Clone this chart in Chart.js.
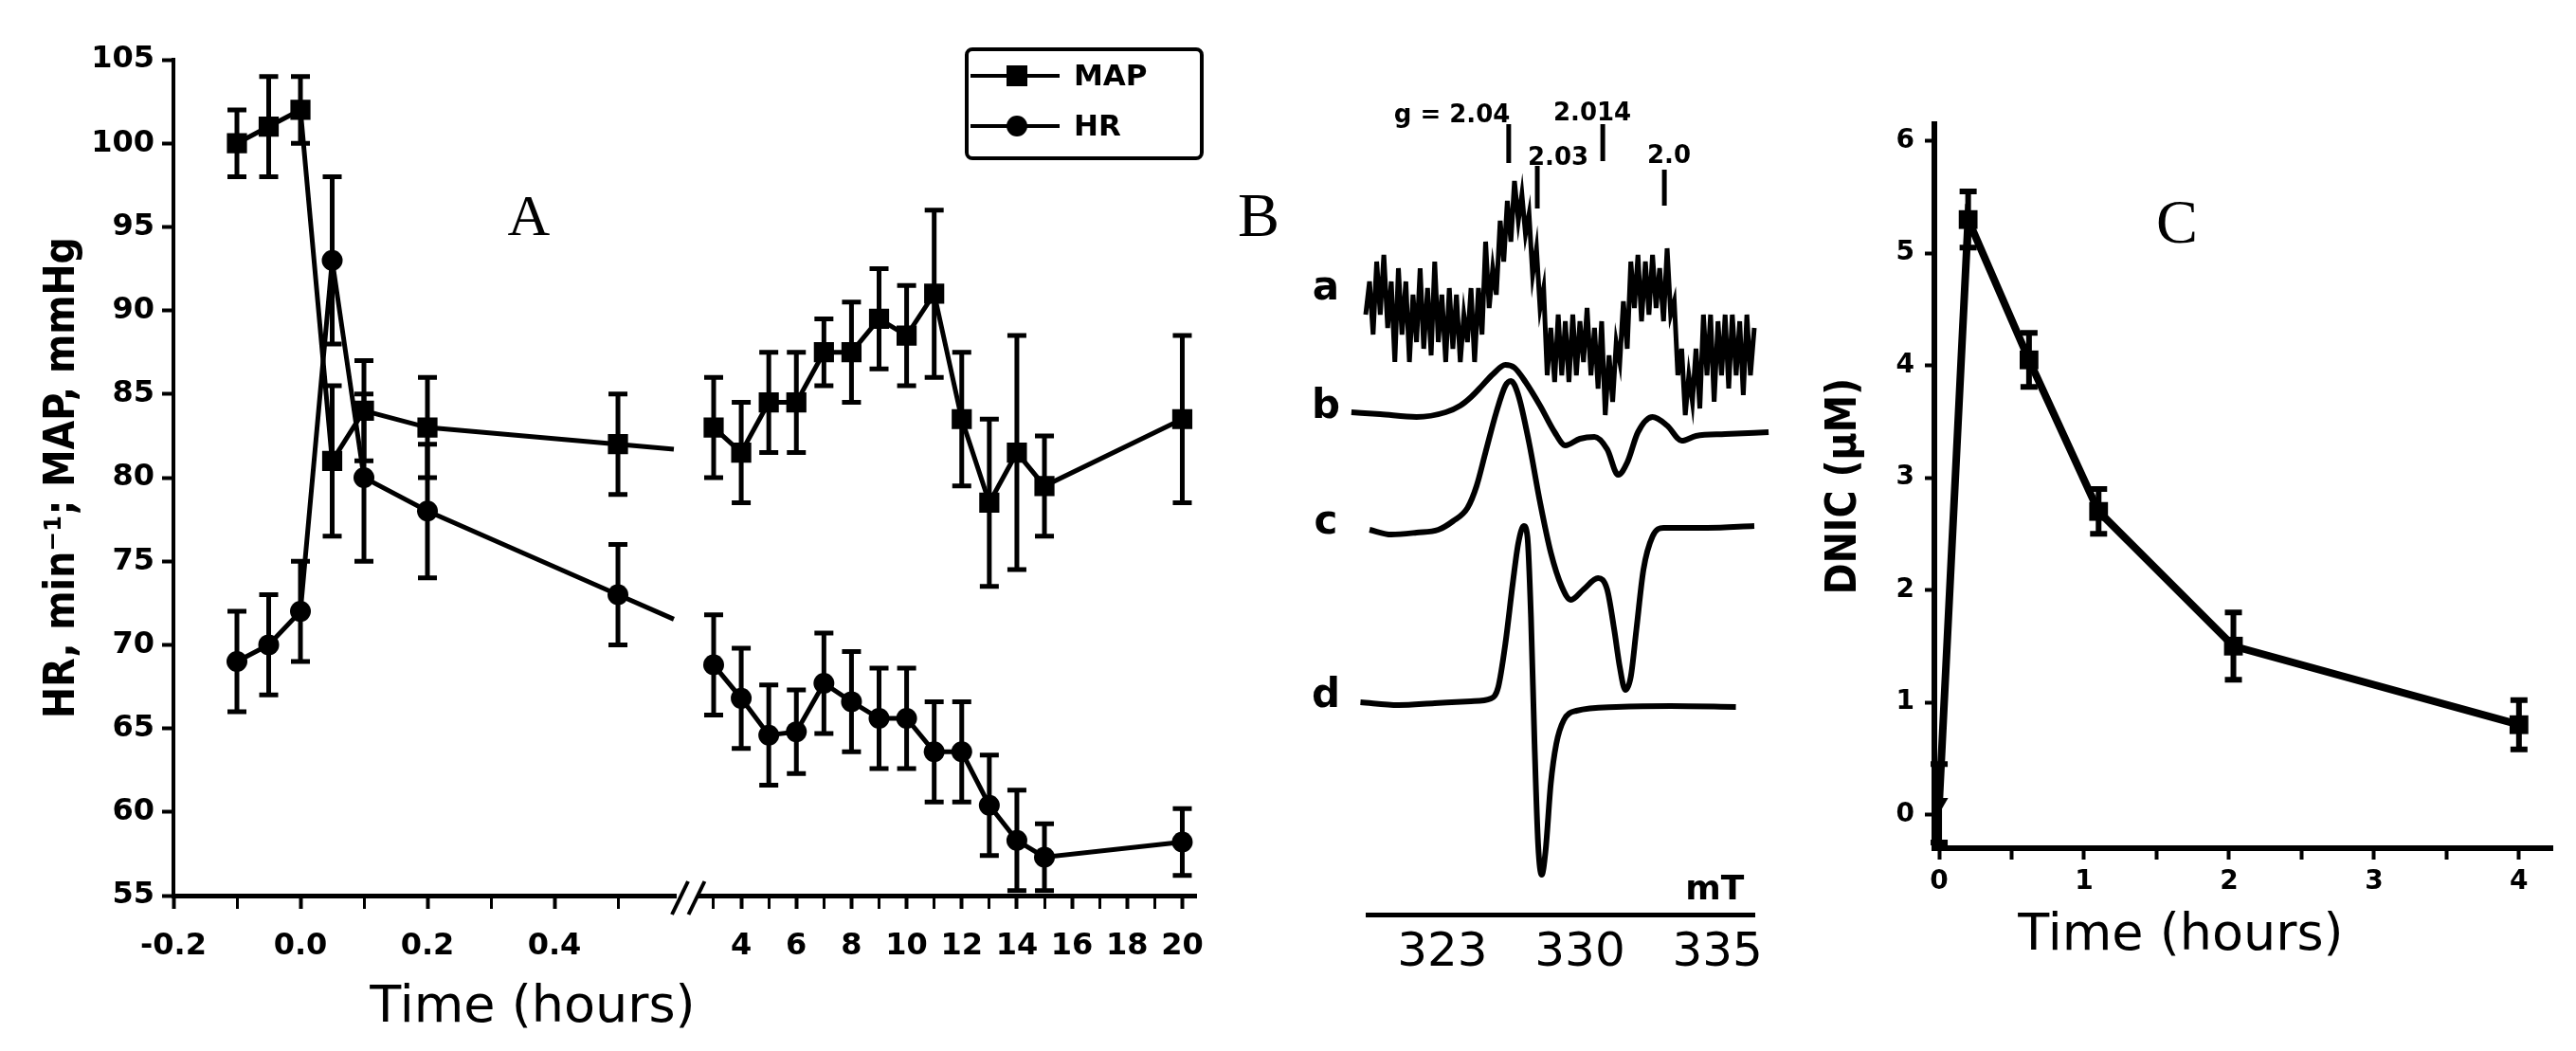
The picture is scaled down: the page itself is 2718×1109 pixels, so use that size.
<!DOCTYPE html>
<html>
<head>
<meta charset="utf-8">
<script src="https://cdn.jsdelivr.net/npm/chart.js@4.4.1/dist/chart.umd.min.js"></script>
<style>
  html, body { margin: 0; padding: 0; background: #fff; }
  #wrap { position: relative; width: 2718px; height: 1109px; background: #fff; overflow: hidden; }
  canvas { position: absolute; top: 0; }
</style>
</head>
<body>
<div id="wrap">
  <canvas id="chartA" width="1290" height="1109" style="left:0px"></canvas>
  <canvas id="chartB" width="590" height="1109" style="left:1290px"></canvas>
  <canvas id="chartC" width="838" height="1109" style="left:1880px"></canvas>
</div>
<script>
// ---- Panel A: MAP and HR over time (broken time axis) ----
const timeA = [-0.1, -0.05, 0, 0.05, 0.1, 0.2, 0.5, 3, 4, 5, 6, 7, 8, 9, 10, 11, 12, 13, 14, 15, 20];
const mapVals = [100, 101, 102, 81, 84, 83, 82, 83, 81.5, 84.5, 84.5, 87.5, 87.5, 89.5, 88.5, 91, 83.5, 78.5, 81.5, 79.5, 83.5];
const mapErr = [2, 3, 2, 4.5, 3, 3, 3, 3, 3, 3, 3, 2, 3, 3, 3, 5, 4, 5, 7, 3, 5];
const hrVals = [69, 70, 72, 93, 80, 78, 73, 68.8, 66.8, 64.6, 64.8, 67.7, 66.6, 65.6, 65.6, 63.6, 63.6, 60.4, 58.3, 57.3, 58.2];
const hrErr = [3, 3, 3, 5, 5, 4, 3, 3, 3, 3, 2.5, 3, 3, 3, 3, 3, 3, 3, 3, 2, 2];
const tickHoursA = [-0.2, -0.1, 0, 0.1, 0.2, 0.3, 0.4, 0.5, 3, 4, 5, 6, 7, 8, 9, 10, 11, 12, 13, 14, 15, 16, 17, 18, 19, 20];
const tickLabelsA = ['-0.2', '', '0.0', '', '0.2', '', '0.4', '', '', '4', '', '6', '', '8', '', '10', '', '12', '', '14', '', '16', '', '18', '', '20'];

// ---- Panel B: EPR spectra a-d ----
const fieldTickPos = [0, 50, 100];
const fieldTickLabels = ['323', '330', '335'];
const scanA = [-27.9, -26.5, -25.2, -23.9, -22.6, -21.3, -19.9, -18.6, -17.3, -16.0, -14.7, -13.3, -12.0, -10.7, -9.4, -8.1, -6.8, -5.4, -4.1, -2.8, -1.5, -0.2, 1.2, 2.5, 3.8, 5.1, 6.5, 7.8, 9.1, 10.4, 11.7, 13.1, 14.4, 15.7, 17.0, 18.3, 19.6, 21.0, 22.3, 23.6, 24.9, 26.2, 27.6, 28.9, 30.2, 31.5, 32.8, 34.2, 35.5, 36.8, 38.1, 39.4, 40.8, 42.1, 43.4, 44.7, 46.0, 47.4, 48.7, 50.0, 51.3, 52.6, 54.0, 55.3, 56.6, 57.9, 59.2, 60.6, 61.9, 63.2, 64.5, 65.8, 67.2, 68.5, 69.8, 71.1, 72.4, 73.8, 75.1, 76.4, 77.7, 79.0, 80.4, 81.7, 83.0, 84.3, 85.6, 87.0, 88.3, 89.6, 90.9, 92.2, 93.6, 94.9, 96.2, 97.5, 98.8, 100.2, 101.5, 102.8, 104.1, 105.4, 106.8, 108.1, 109.4, 110.7, 112.0, 113.4, 114.7, 116.0, 117.3];
const sigA = [63.3, 66.8, 61.2, 68.9, 63.3, 69.6, 61.9, 66.8, 58.3, 68.2, 61.2, 66.8, 58.3, 65.4, 60.4, 68.2, 59.7, 66.1, 59.0, 68.9, 60.4, 65.4, 58.3, 66.1, 59.7, 65.4, 58.3, 63.3, 60.4, 66.1, 58.3, 66.1, 61.2, 71.0, 64.0, 68.2, 65.4, 73.2, 68.9, 75.3, 71.0, 77.4, 73.2, 76.0, 71.8, 73.9, 67.5, 70.3, 64.0, 66.1, 56.9, 61.9, 56.2, 63.3, 56.9, 62.6, 56.2, 63.3, 56.9, 62.6, 58.3, 64.0, 56.9, 61.9, 55.5, 62.6, 52.7, 59.0, 54.1, 60.4, 58.3, 64.7, 59.7, 68.9, 64.0, 69.6, 62.6, 68.9, 63.3, 69.6, 64.0, 68.2, 62.6, 70.3, 63.3, 64.7, 56.9, 59.7, 52.7, 56.9, 54.1, 59.7, 53.4, 63.3, 56.9, 63.3, 54.1, 62.6, 56.9, 63.3, 55.5, 63.3, 56.9, 62.6, 54.8, 63.3, 56.9, 61.9, 58.3, 62.6, 61.2];
const scanB = [-33.1, -22.6, -9.4, 1.2, 6.5, 10.4, 14.4, 18.3, 22.9, 26.2, 30.2, 35.5, 40.8, 44.7, 50.0, 55.3, 59.9, 63.9, 67.2, 71.1, 76.4, 81.7, 87.0, 92.2, 102.8, 118.6];
const sigB = [53.0, 52.8, 52.5, 53.0, 53.7, 54.6, 55.8, 57.0, 58.0, 57.7, 56.2, 53.7, 50.9, 49.5, 50.2, 50.4, 49.1, 46.4, 47.7, 50.9, 52.5, 51.6, 50.0, 50.5, 50.7, 50.9];
const scanC = [-26.5, -18.6, -9.4, -1.5, 3.8, 9.1, 12.4, 15.7, 19.6, 22.9, 24.9, 27.6, 31.5, 35.5, 39.4, 43.4, 46.7, 51.3, 56.6, 59.9, 62.5, 64.5, 66.5, 68.5, 70.5, 73.1, 76.4, 80.4, 96.2, 113.4];
const sigC = [40.6, 40.1, 40.3, 40.6, 41.5, 42.9, 45.2, 48.8, 53.0, 55.8, 56.3, 54.8, 49.8, 43.5, 38.2, 34.6, 33.2, 34.3, 35.5, 34.3, 30.0, 26.1, 23.7, 25.1, 30.0, 36.4, 39.9, 40.8, 40.8, 41.0];
const scanD = [-29.8, -16.0, -2.8, 10.4, 17.7, 20.3, 22.9, 25.6, 27.6, 29.6, 30.9, 32.2, 33.5, 34.8, 36.1, 37.5, 39.4, 41.4, 44.1, 48.7, 63.2, 83.0, 106.7];
const sigD = [22.4, 22.1, 22.3, 22.5, 22.8, 24.0, 28.6, 35.0, 39.2, 41.0, 39.9, 31.4, 18.0, 7.4, 4.2, 6.7, 13.8, 18.0, 20.5, 21.5, 21.9, 22.0, 21.9];
const traceNames = ['a', 'b', 'c', 'd'];
const traceLabelLevels = [66, 53.5, 41.3, 23];
const gMarks = [
  { text: 'g = 2.04', textX: 3.5, textY: 84.3, x: 24.1, top: 83.4, bottom: 79.3 },
  { text: '2.014', textX: 54.5, textY: 84.5, x: 58.3, top: 83.4, bottom: 79.5 },
  { text: '2.03', textX: 42.1, textY: 79.8, x: 34.5, top: 79.0, bottom: 74.5 },
  { text: '2.0', textX: 82.4, textY: 80.0, x: 80.7, top: 78.6, bottom: 74.8 }
];

// ---- Panel C: DNIC over time ----
const dnicTime = [0, 0.2, 0.62, 1.1, 2.03, 4];
const dnicVals = [0.1, 5.3, 4.05, 2.7, 1.5, 0.8];
const dnicErr = [0.35, 0.25, 0.24, 0.2, 0.3, 0.22];
const tickHoursC = [0, 0.5, 1, 1.5, 2, 2.5, 3, 3.5, 4];
const tickLabelsC = ['0', '', '1', '', '2', '', '3', '', '4'];
const dnicTicks = [0, 1, 2, 3, 4, 5, 6];

// broken axis: left part in hours as is, right part compressed
const RIGHT_ORIGIN = 0.6941, RIGHT_SCALE = 0.04341;
const BREAK_LEFT = 0.588, BREAK_RIGHT = 2.5;
const LAST_LEFT = timeA.filter(h => h < 1).length - 1;
function toAxis(h) {
  return h < 1 ? h : RIGHT_ORIGIN + (h - 4) * RIGHT_SCALE;
}

const BLACK = '#000';
const tickFont = { family: 'DejaVu Sans', size: 32, weight: 'bold' };

const errorBars = {
  id: 'errorBars',
  beforeDatasetsDraw(chart) {
    const ctx = chart.ctx;
    chart.data.datasets.forEach((ds, i) => {
      if (!ds.errorBars) return;
      const meta = chart.getDatasetMeta(i);
      const ys = chart.scales[meta.yAxisID];
      ctx.save();
      ctx.strokeStyle = BLACK;
      ctx.lineWidth = ds.errorWidth;
      meta.data.forEach((pt, j) => {
        const v = ds.data[j].y, e = ds.errorBars[j];
        const y1 = ys.getPixelForValue(v + e), y2 = ys.getPixelForValue(v - e);
        const h = ds.capHalf;
        ctx.beginPath();
        ctx.moveTo(pt.x, y1); ctx.lineTo(pt.x, y2);
        ctx.moveTo(pt.x - h, y1); ctx.lineTo(pt.x + h, y1);
        ctx.moveTo(pt.x - h, y2); ctx.lineTo(pt.x + h, y2);
        ctx.stroke();
      });
      ctx.restore();
    });
  }
};

function text(ctx, str, x, y, font, align) {
  ctx.font = font;
  ctx.textAlign = align || 'center';
  ctx.textBaseline = 'middle';
  ctx.fillStyle = BLACK;
  ctx.fillText(str, x, y);
}

const decorA = {
  id: 'decorA',
  afterDraw(chart) {
    const ctx = chart.ctx, xs = chart.scales.x;
    const xb0 = xs.getPixelForValue(toAxis(BREAK_LEFT));
    const xb1 = xs.getPixelForValue(toAxis(BREAK_RIGHT));
    const yAx = xs.top;
    ctx.save();
    // lines run on to the break along their last slope
    chart.data.datasets.forEach((ds, i) => {
      const pts = chart.getDatasetMeta(i).data;
      const p0 = pts[LAST_LEFT - 1], p1 = pts[LAST_LEFT];
      const slope = (p1.y - p0.y) / (p1.x - p0.x);
      ctx.strokeStyle = BLACK;
      ctx.lineWidth = ds.borderWidth;
      ctx.beginPath();
      ctx.moveTo(p1.x, p1.y);
      ctx.lineTo(xb0, p1.y + slope * (xb0 - p1.x));
      ctx.stroke();
    });
    // axis break
    ctx.fillStyle = '#fff';
    ctx.fillRect(xb0 + 3, yAx - 8, xb1 - xb0 - 6, 16);
    ctx.strokeStyle = BLACK;
    ctx.lineWidth = 4;
    [xb0 - 2, xb1 - 12].forEach(x0 => {
      ctx.beginPath();
      ctx.moveTo(x0, yAx + 20);
      ctx.lineTo(x0 + 17, yAx - 15);
      ctx.stroke();
    });
    // legend box
    ctx.lineWidth = 4;
    ctx.beginPath();
    ctx.roundRect(1020, 52, 248, 115, 6);
    ctx.stroke();
    chart.data.datasets.forEach((ds, i) => {
      const y = 80 + i * 53;
      ctx.lineWidth = 4;
      ctx.beginPath(); ctx.moveTo(1024, y); ctx.lineTo(1118, y); ctx.stroke();
      ctx.fillStyle = BLACK;
      if (ds.pointStyle === 'rect') {
        ctx.fillRect(1062, y - 11, 22, 22);
      } else {
        ctx.beginPath(); ctx.arc(1073, y, 11, 0, Math.PI * 2); ctx.fill();
      }
      text(ctx, ds.label, 1133, y + 2, 'bold 31px "DejaVu Sans"', 'left');
    });
    text(ctx, 'A', 558, 232, '62px "Liberation Serif"');
    text(ctx, 'Time (hours)', 562, 1064, '54px "DejaVu Sans"');
    ctx.restore();
  }
};

new Chart(document.getElementById('chartA'), {
  type: 'line',
  data: {
    datasets: [
      {
        label: 'MAP',
        data: timeA.map((h, i) => ({ x: toAxis(h), y: mapVals[i] })),
        errorBars: mapErr, errorWidth: 5, capHalf: 10,
        borderColor: BLACK, backgroundColor: BLACK, borderWidth: 5,
        pointStyle: 'rect', pointRadius: 15, pointBorderWidth: 0,
        pointBackgroundColor: BLACK,
        segment: { borderColor: c => (c.p0DataIndex === LAST_LEFT ? 'rgba(0,0,0,0)' : BLACK) }
      },
      {
        label: 'HR',
        data: timeA.map((h, i) => ({ x: toAxis(h), y: hrVals[i] })),
        errorBars: hrErr, errorWidth: 5, capHalf: 10,
        borderColor: BLACK, backgroundColor: BLACK, borderWidth: 5,
        pointStyle: 'circle', pointRadius: 11, pointBorderWidth: 0,
        pointBackgroundColor: BLACK,
        segment: { borderColor: c => (c.p0DataIndex === LAST_LEFT ? 'rgba(0,0,0,0)' : BLACK) }
      }
    ]
  },
  options: {
    responsive: false, animation: false, devicePixelRatio: 1,
    layout: { padding: { left: 40, top: 63, right: 20, bottom: 0 } },
    plugins: { legend: { display: false }, tooltip: { enabled: false } },
    scales: {
      x: {
        type: 'linear', min: -0.2, max: 1.411,
        afterFit: s => { s.height = 164; },
        afterBuildTicks: s => { s.ticks = tickHoursA.map(h => ({ value: toAxis(h) })); },
        ticks: {
          autoSkip: false, maxRotation: 0, padding: 20, color: BLACK, font: tickFont,
          callback: (v, i) => tickLabelsA[i]
        },
        grid: {
          drawOnChartArea: false, tickLength: 14, tickColor: BLACK,
          tickWidth: c => (tickLabelsA[c.index] ? 4 : 3)
        },
        border: { display: true, color: BLACK, width: 5 }
      },
      y: {
        min: 55, max: 105,
        afterFit: s => { s.width = 143; },
        ticks: { stepSize: 5, padding: 8, color: BLACK, font: tickFont },
        grid: { drawOnChartArea: false, tickLength: 12, tickColor: BLACK, tickWidth: 4 },
        border: { display: true, color: BLACK, width: 4 },
        title: {
          display: true, text: 'HR, min⁻¹; MAP, mmHg', color: BLACK, padding: 0,
          font: { family: 'DejaVu Sans Condensed', size: 44, weight: 'bold' }
        }
      }
    }
  },
  plugins: [errorBars, decorA]
});

const decorB = {
  id: 'decorB',
  afterDraw(chart) {
    const ctx = chart.ctx, xs = chart.scales.x, ys = chart.scales.y;
    ctx.save();
    traceNames.forEach((n, i) => {
      text(ctx, n, 109, ys.getPixelForValue(traceLabelLevels[i]), 'bold 42px "DejaVu Sans"');
    });
    ctx.strokeStyle = BLACK;
    ctx.lineWidth = 5;
    gMarks.forEach(g => {
      text(ctx, g.text, xs.getPixelForValue(g.textX), ys.getPixelForValue(g.textY), 'bold 26px "DejaVu Sans"');
      const x = xs.getPixelForValue(g.x);
      ctx.beginPath();
      ctx.moveTo(x, ys.getPixelForValue(g.top));
      ctx.lineTo(x, ys.getPixelForValue(g.bottom));
      ctx.stroke();
    });
    text(ctx, 'mT', xs.getPixelForValue(99), ys.getPixelForValue(2.5), 'bold 36px "DejaVu Sans"');
    text(ctx, 'B', 38, 232, '66px "Liberation Serif"');
    ctx.restore();
  }
};

const spectra = [[scanA, sigA], [scanB, sigB], [scanC, sigC], [scanD, sigD]];
new Chart(document.getElementById('chartB'), {
  type: 'line',
  data: {
    datasets: spectra.map(([xs, ys], i) => ({
      label: traceNames[i],
      data: xs.map((x, j) => ({ x: x, y: ys[j] })),
      borderColor: BLACK, borderWidth: i === 0 ? 5 : 6,
      pointRadius: 0, clip: false,
      cubicInterpolationMode: i === 0 ? 'default' : 'monotone',
      tension: i === 0 ? 0 : 0.4
    }))
  },
  options: {
    responsive: false, animation: false, devicePixelRatio: 1,
    layout: { padding: { left: 153, top: 100, right: 29, bottom: 0 } },
    plugins: { legend: { display: false }, tooltip: { enabled: false } },
    scales: {
      x: {
        type: 'linear', min: -27.2, max: 113.4,
        afterFit: s => { s.height = 144; },
        afterBuildTicks: s => { s.ticks = fieldTickPos.map(v => ({ value: v })); },
        ticks: {
          autoSkip: false, maxRotation: 0, padding: 11, color: BLACK,
          font: { family: 'DejaVu Sans', size: 50 },
          callback: (v, i) => fieldTickLabels[i]
        },
        grid: { display: false, drawTicks: false },
        border: { display: true, color: BLACK, width: 5 }
      },
      y: { display: false, min: 0, max: 86.5 }
    }
  },
  plugins: [decorB]
});

const decorC = {
  id: 'decorC',
  afterDraw(chart) {
    const ctx = chart.ctx;
    ctx.save();
    text(ctx, 'C', 417, 239, '66px "Liberation Serif"');
    text(ctx, 'Time (hours)', 421, 988, '54px "DejaVu Sans"');
    ctx.restore();
  }
};

new Chart(document.getElementById('chartC'), {
  type: 'line',
  data: {
    datasets: [{
      label: 'DNIC',
      data: dnicTime.map((t, i) => ({ x: t, y: dnicVals[i] })),
      errorBars: dnicErr, errorWidth: 6, capHalf: 9,
      borderColor: BLACK, backgroundColor: BLACK, borderWidth: 8,
      pointStyle: ['triangle', 'rect', 'rect', 'rect', 'rect', 'rect'],
      pointRotation: [180, 0, 0, 0, 0, 0],
      pointRadius: [11, 14, 14, 14, 14, 14], pointBorderWidth: 0,
      pointBackgroundColor: BLACK
    }]
  },
  options: {
    responsive: false, animation: false, devicePixelRatio: 1,
    layout: { padding: { left: 40, top: 131, right: 25, bottom: 0 } },
    plugins: { legend: { display: false }, tooltip: { enabled: false } },
    scales: {
      x: {
        type: 'linear', min: -0.033, max: 4.23,
        afterFit: s => { s.height = 214; },
        afterBuildTicks: s => { s.ticks = tickHoursC.map(v => ({ value: v })); },
        ticks: {
          autoSkip: false, maxRotation: 0, padding: 7, color: BLACK,
          font: { family: 'DejaVu Sans', size: 28, weight: 'bold' },
          callback: (v, i) => tickLabelsC[i]
        },
        grid: { drawOnChartArea: false, tickLength: 12, tickColor: BLACK, tickWidth: 4 },
        border: { display: true, color: BLACK, width: 6 }
      },
      y: {
        min: -0.3, max: 6.15,
        afterFit: s => { s.width = 121; },
        afterBuildTicks: s => { s.ticks = dnicTicks.map(v => ({ value: v })); },
        ticks: {
          padding: 11, color: BLACK,
          font: { family: 'DejaVu Sans', size: 28, weight: 'bold' }
        },
        grid: { drawOnChartArea: false, tickLength: 10, tickColor: BLACK, tickWidth: 4 },
        border: { display: true, color: BLACK, width: 6 },
        title: {
          display: true, text: 'DNIC (µM)', color: BLACK, padding: 0,
          font: { family: 'DejaVu Sans Condensed', size: 44, weight: 'bold' }
        }
      }
    }
  },
  plugins: [errorBars, decorC]
});
</script>
</body>
</html>
